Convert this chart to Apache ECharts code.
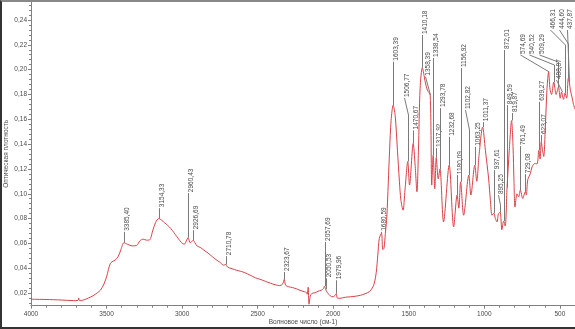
<!DOCTYPE html>
<html>
<head>
<meta charset="utf-8">
<script src="https://cdn.jsdelivr.net/npm/echarts@6/dist/echarts.min.js"></script>
<style>
  html, body { margin: 0; padding: 0; background: #fff; }
  #chart { position: absolute; left: 0; top: 0; width: 575px; height: 329px; }
  #frame { position: absolute; left: 0; top: 0; width: 575px; height: 329px; box-sizing: border-box;
           border-left: 2px solid #333; border-top: 2px solid #888; border-bottom: 2px solid #333; pointer-events: none; }
</style>
</head>
<body>
<div id="chart"></div>
<div id="frame"></div>
<script>
// IR absorption spectrum: wavenumber (cm-1) vs optical density
const wavenumbers = [
  4000, 3900, 3800, 3720, 3690, 3684, 3678, 3650, 3620, 3590, 3560, 3540, 3520, 3500, 3488, 3476,
  3464, 3444, 3424, 3404, 3385.40, 3360, 3330, 3300, 3280, 3258, 3235, 3215, 3195, 3175, 3154.33,
  3135, 3115, 3095, 3075, 3055, 3035, 3015, 2995, 2983, 2972, 2960.43, 2946, 2926.69, 2915, 2900,
  2880, 2855, 2828, 2800, 2775, 2750, 2725, 2710.78, 2700, 2670, 2640, 2615, 2585, 2550, 2515,
  2485, 2450, 2415, 2385, 2355, 2335, 2323.67, 2315, 2295, 2270, 2245, 2220, 2190, 2178, 2172,
  2166, 2160, 2152, 2140, 2120, 2100, 2080, 2065, 2057.69, 2050.53, 2040, 2020, 2000, 1990,
  1979.96, 1972, 1955, 1920, 1885, 1855, 1820, 1790, 1762, 1742, 1728, 1715, 1705, 1695, 1680.59,
  1672, 1664, 1655, 1645, 1636, 1627, 1617, 1603.39, 1590, 1575, 1562, 1552, 1538, 1525, 1506.77,
  1495, 1470.67, 1458, 1446, 1436, 1425, 1410.18, 1391, 1377, 1358.39, 1348, 1338.54, 1328,
  1317.92, 1305, 1293.78, 1270, 1232.68, 1203, 1180.09, 1169, 1156.92, 1137, 1102.82, 1089,
  1063.25, 1050, 1035, 1011.37, 993, 972, 960, 949, 937.61, 927, 916, 907, 895.25, 884, 872.01,
  862, 849.59, 835, 819.87, 810, 804, 797, 784, 773, 761.49, 746, 729.08, 722, 713, 695, 684, 666,
  651, 639.27, 631, 623.07, 615, 607, 596, 585, 574.69, 565, 555, 540.52, 525, 509.29, 498,
  488.87, 476, 466.31, 455, 444.60, 437.87, 430, 420, 410, 400
];
const absorbance = [
  0.0150, 0.0148, 0.0144, 0.0139, 0.0140, 0.0160, 0.0138, 0.0145, 0.0160, 0.0178, 0.0203, 0.0224, 0.0265, 0.0330, 0.0388, 0.0435,
  0.0452, 0.0465, 0.0492, 0.0553, 0.0605, 0.0592, 0.0580, 0.0584, 0.0620, 0.0634, 0.0626, 0.0628, 0.0700, 0.0770, 0.0800,
  0.0786, 0.0765, 0.0745, 0.0720, 0.0688, 0.0655, 0.0622, 0.0597, 0.0595, 0.0620, 0.0646, 0.0605, 0.0625, 0.0605, 0.0578,
  0.0568, 0.0545, 0.0521, 0.0493, 0.0469, 0.0448, 0.0425, 0.0430, 0.0410, 0.0396, 0.0384, 0.0376, 0.0364, 0.0344, 0.0323,
  0.0311, 0.0295, 0.0279, 0.0267, 0.0260, 0.0272, 0.0310, 0.0263, 0.0251, 0.0244, 0.0235, 0.0222, 0.0210, 0.0206, 0.0190,
  0.0247, 0.0110, 0.0174, 0.0198, 0.0202, 0.0215, 0.0222, 0.0235, 0.0255, 0.0230, 0.0206, 0.0178, 0.0170, 0.0178,
  0.0195, 0.0158, 0.0158, 0.0166, 0.0170, 0.0174, 0.0182, 0.0194, 0.0210, 0.0239, 0.0279, 0.0368, 0.0505, 0.0640, 0.0682,
  0.0550, 0.0560, 0.0680, 0.0820, 0.1080, 0.1350, 0.1590, 0.1714, 0.1630, 0.1350, 0.1100, 0.0948, 0.0868, 0.1030, 0.1260,
  0.1070, 0.1405, 0.1230, 0.1016, 0.1350, 0.1850, 0.2015, 0.1900, 0.1835, 0.1795, 0.1070, 0.1310, 0.1040,
  0.1290, 0.1120, 0.1200, 0.0773, 0.1230, 0.0733, 0.0990, 0.0884, 0.1096, 0.0827, 0.1150, 0.0990,
  0.1230, 0.1100, 0.1310, 0.1537, 0.1350, 0.1126, 0.0948, 0.0827, 0.0844, 0.0800, 0.0773, 0.0836, 0.0852, 0.0710, 0.0780,
  0.0740, 0.1050, 0.1350, 0.1590, 0.1380, 0.1110, 0.0894, 0.1000, 0.0975, 0.1030, 0.0962, 0.1015, 0.0990, 0.1110, 0.1164, 0.1217, 0.1244,
  0.1240, 0.1350, 0.1280, 0.1420, 0.1350, 0.1300, 0.1550, 0.1850, 0.1980, 0.1840, 0.1800, 0.1900, 0.1800, 0.1860, 0.1770,
  0.1820, 0.1760, 0.1810, 0.1770, 0.1930, 0.1900, 0.1830, 0.1780, 0.1720, 0.1680
];

// Annotated peak positions (cm-1)
const peakWavenumbers = [
  3385.40, 3154.33, 2960.43, 2926.69, 2710.78, 2323.67, 2057.69, 2050.53, 1979.96, 1680.59,
  1603.39, 1506.77, 1470.67, 1410.18, 1358.39, 1338.54, 1317.92, 1293.78, 1232.68, 1180.09,
  1156.92, 1102.82, 1063.25, 1011.37, 937.61, 895.25, 872.01, 849.59, 819.87, 761.49,
  729.08, 639.27, 623.07, 574.69, 540.52, 509.29, 488.87, 466.31, 444.60, 437.87
];

// Where each peak's caption sits: [caption x (cm-1, null = above the peak), caption foot (OD), elbow height (OD) or null]
const captionAnchors = [
  [null, 0.0693, null], [null, 0.0884, null], [null, 0.1005, null], [null, 0.0706, null], [null, 0.0497, null],
  [null, 0.0370, null], [null, 0.0612, null], [null, 0.0319, null], [null, 0.0303, null], [null, 0.0693, null],
  [null, 0.2064, null], [1531, 0.1771, 0.1634], [null, 0.1510, null], [null, 0.2279, null], [1392, 0.1943, null],
  [null, 0.2094, null], [null, 0.1368, null], [null, 0.1690, null], [null, 0.1459, null], [null, 0.1150, null],
  [null, 0.2013, null], [1129, 0.1674, 0.1513], [null, 0.1378, null], [null, 0.1577, null], [null, 0.1190, null],
  [911, 0.0989, 0.0908], [null, 0.2158, null], [null, 0.1714, null], [null, 0.1650, null], [null, 0.1384, null],
  [null, 0.1158, null], [null, 0.1741, null], [null, 0.1473, null], [762, 0.2118, null], [706, 0.2118, 0.2037],
  [640, 0.2118, 0.2061], [523, 0.1916, null], [563, 0.2319, 0.2198], [508, 0.2319, 0.2206], [453, 0.2319, null]
];

const xTickValues = [4000, 3500, 3000, 2500, 2000, 1500, 1000, 500];
const yTickValues = [0.02, 0.04, 0.06, 0.08, 0.10, 0.12, 0.14, 0.16, 0.18, 0.20, 0.22, 0.24];

const xMinorTicks = [];
for (let v = 3900; v >= 400; v -= 100) if (v % 500 !== 0) xMinorTicks.push(v);
const yMinorTicks = [];
for (let k = 3; k <= 63; k++) if (k % 5 !== 0) yMinorTicks.push(k * 0.004);

const commaNum = (v, d) => v.toFixed(d).replace('.', ',');
const FONT = 'Liberation Sans, Arial, sans-serif';
const AXIS_GRAY = '#808080';
const TEXT_GRAY = '#4a4a4a';

const spectrum = wavenumbers.map((w, i) => [w, absorbance[i]]);
const peakData = peakWavenumbers.map((w, i) => [w, absorbance[wavenumbers.indexOf(w)], i]);

const X_MIN = 400, X_MAX = 4000, Y_MIN = 0.0098, Y_MAX = 0.2545;

const chart = echarts.init(document.getElementById('chart'), null, { renderer: 'canvas' });
chart.setOption({
  animation: false,
  backgroundColor: '#fff',
  grid: { left: 31, right: 0, top: 2, bottom: 23.3, containLabel: false, outerBoundsMode: 'none' },
  xAxis: [
    {
      type: 'value', inverse: true, min: X_MIN, max: X_MAX,
      name: 'Волновое число (см-1)', nameLocation: 'middle', nameGap: 13, nameMoveOverlap: false,
      nameTextStyle: { fontSize: 6.5, color: TEXT_GRAY, fontFamily: FONT },
      axisLine: { show: true, lineStyle: { color: AXIS_GRAY, width: 1 } },
      axisTick: { show: true, length: 3, customValues: xTickValues, lineStyle: { color: AXIS_GRAY } },
      axisLabel: { show: true, customValues: xTickValues, margin: 5, fontSize: 6.5, color: TEXT_GRAY, fontFamily: FONT,
                   formatter: v => String(v) },
      splitLine: { show: false }
    },
    {
      type: 'value', inverse: true, min: X_MIN, max: X_MAX, position: 'bottom',
      axisLine: { show: false },
      axisTick: { show: true, length: 2, customValues: xMinorTicks, lineStyle: { color: AXIS_GRAY } },
      axisLabel: { show: false, customValues: xMinorTicks },
      splitLine: { show: false }
    }
  ],
  yAxis: [
    {
      type: 'value', min: Y_MIN, max: Y_MAX,
      name: 'Оптическая плотность', nameLocation: 'middle', nameGap: 21, nameRotate: 90, nameMoveOverlap: false,
      nameTextStyle: { fontSize: 6.5, color: TEXT_GRAY, fontFamily: FONT },
      axisLine: { show: true, lineStyle: { color: AXIS_GRAY, width: 1 } },
      axisTick: { show: true, length: 3, customValues: yTickValues, lineStyle: { color: AXIS_GRAY } },
      axisLabel: { show: true, customValues: yTickValues, margin: 4, fontSize: 6.5, color: TEXT_GRAY, fontFamily: FONT,
                   formatter: v => commaNum(v, 2) },
      splitLine: { show: false }
    },
    {
      type: 'value', min: Y_MIN, max: Y_MAX, position: 'left',
      axisLine: { show: false },
      axisTick: { show: true, length: 2, customValues: yMinorTicks, lineStyle: { color: AXIS_GRAY } },
      axisLabel: { show: false, customValues: yMinorTicks },
      splitLine: { show: false }
    }
  ],
  series: [
    {
      name: 'spectrum', type: 'line', data: spectrum, xAxisIndex: 0, yAxisIndex: 0,
      showSymbol: false, smooth: 0.3, clip: true,
      lineStyle: { color: '#dc4048', width: 1 }, z: 3
    },
    {
      name: 'peaks', type: 'custom', data: peakData, xAxisIndex: 0, yAxisIndex: 0,
      encode: { x: 0, y: 1 }, silent: true, z: 2, clip: false,
      renderItem: (params, api) => {
        const idx = api.value(2);
        const wn = api.value(0), od = api.value(1);
        const [capX, capFoot, elbow] = captionAnchors[idx];
        const pts = [api.coord([wn, od])];
        if (elbow !== null) pts.push(api.coord([wn, elbow]));
        const foot = api.coord([capX === null ? wn : capX, capFoot]);
        pts.push(foot);
        const snap = p => [Math.round(p[0]) + 0.5, p[1]];
        return {
          type: 'group',
          children: [
            { type: 'polyline', shape: { points: pts.map(snap) }, style: { stroke: '#7a7a7a', lineWidth: 1, fill: null } },
            { type: 'text', x: Math.round(foot[0]) + 3.5, y: foot[1] - 1, rotation: Math.PI / 2,
              style: { text: commaNum(peakWavenumbers[idx], 2), fontSize: 6.5, fill: TEXT_GRAY, fontFamily: FONT,
                       align: 'left', verticalAlign: 'middle' } }
          ]
        };
      }
    }
  ]
});
</script>
</body>
</html>
